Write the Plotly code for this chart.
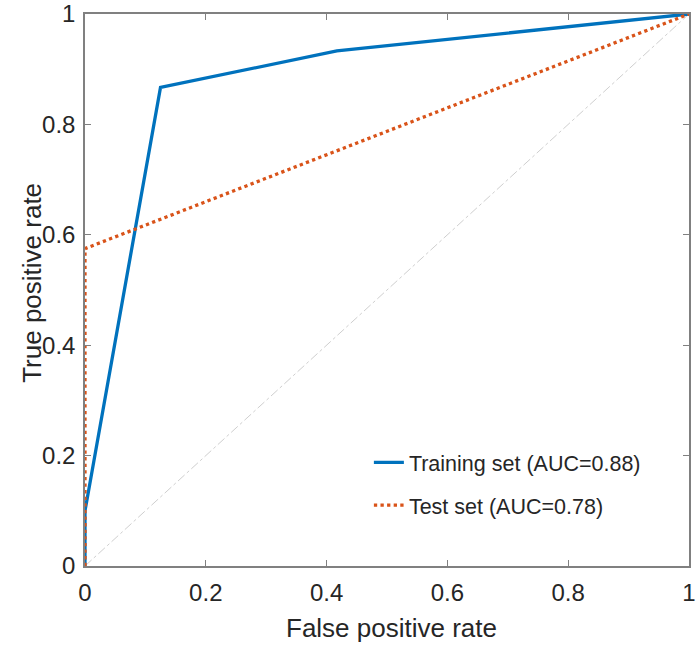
import plotly.graph_objects as go

train_fpr = [0, 0, 0.125, 0.417, 1]
train_tpr = [0, 0.1, 0.867, 0.933, 1]
test_fpr = [0, 0, 1]
test_tpr = [0, 0.575, 1]
diag = [0, 1]
tick_vals = [0, 0.2, 0.4, 0.6, 0.8, 1]
tick_text = ["0", "0.2", "0.4", "0.6", "0.8", "1"]

fig = go.Figure()
fig.add_trace(go.Scatter(x=diag, y=diag, mode="lines", showlegend=False,
                         line=dict(color="#cfcfcf", width=1, dash="dashdot"),
                         cliponaxis=False, hoverinfo="skip"))
fig.add_trace(go.Scatter(x=train_fpr, y=train_tpr, mode="lines",
                         name="Training set (AUC=0.88)", legendgroup="a",
                         line=dict(color="#0072BD", width=3.3), cliponaxis=False))
fig.add_trace(go.Scatter(x=test_fpr, y=test_tpr, mode="lines",
                         name="Test set (AUC=0.78)", legendgroup="b",
                         line=dict(color="#D95319", width=3.3, dash="dot"), cliponaxis=False))

axis_common = dict(range=[0, 1], tickvals=tick_vals, ticktext=tick_text,
                   showgrid=False, zeroline=False, showline=True, linecolor="#808080",
                   linewidth=1.5, mirror="ticks", ticks="inside", ticklen=6,
                   tickcolor="#808080", tickfont=dict(size=24, color="#262626"),
                   automargin=False, ticklabeloverflow="allow")

fig.update_layout(
    width=697, height=646,
    margin=dict(l=85, r=8, t=14, b=80),
    paper_bgcolor="white", plot_bgcolor="white",
    font=dict(family="Liberation Sans, Arial, sans-serif", color="#262626"),
    xaxis=dict(**axis_common, ticklabelstandoff=4),
    yaxis=dict(**axis_common, ticklabelstandoff=3),
    legend=dict(x=0.47, y=0.225, xanchor="left", yanchor="top",
                bgcolor="rgba(0,0,0,0)", font=dict(size=21.5, color="#262626"),
                traceorder="grouped", tracegroupgap=12),
    showlegend=True,
    annotations=[
        dict(text="False positive rate", xref="paper", yref="paper", x=0.507, y=0,
             xanchor="center", yanchor="middle", yshift=-62, showarrow=False,
             font=dict(size=26, color="#262626")),
        dict(text="True positive rate", xref="paper", yref="paper", x=0, y=0.513,
             xanchor="center", yanchor="middle", xshift=-53, textangle=-90,
             showarrow=False, font=dict(size=26, color="#262626")),
    ],
)

fig.write_html("out.html",
               config={"displayModeBar": False},
               post_script="document.body.style.margin='0';document.body.style.overflow='hidden';"
                           "document.documentElement.style.overflow='hidden';")
